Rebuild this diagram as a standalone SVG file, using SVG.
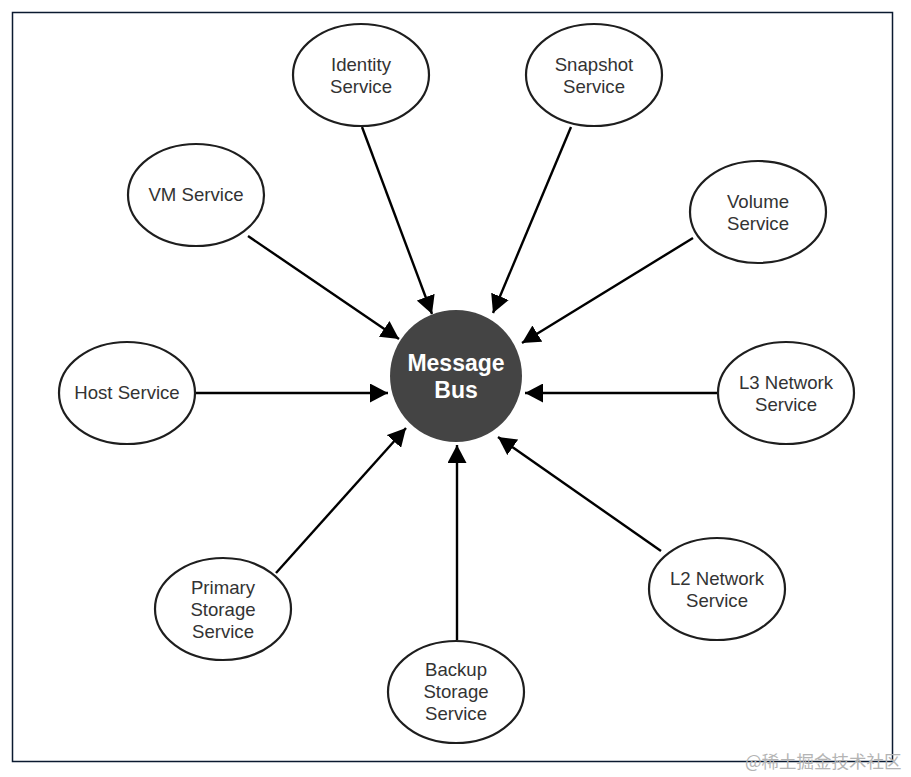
<svg xmlns="http://www.w3.org/2000/svg" width="911" height="777" viewBox="0 0 911 777">
<style>
.node ellipse{fill:#fff;stroke:#1e1e1e;stroke-width:2.2}
.node text{font-family:"Liberation Sans",Arial,sans-serif;font-size:18.6px;fill:#333;text-anchor:middle}
.conn line{stroke:#000;stroke-width:2.4}
.bus text{font-family:"Liberation Sans",Arial,sans-serif;font-size:23px;font-weight:bold;fill:#fff;text-anchor:middle}
.wm{font-family:"Noto Sans CJK SC","Liberation Sans",sans-serif;font-size:17.5px;fill:#b4b4b4}
</style>
<defs>
<marker id="ah" markerUnits="userSpaceOnUse" markerWidth="19" markerHeight="19" refX="18" refY="9.5" orient="auto" viewBox="0 0 19 19">
<path d="M0,0 L18,9.5 L0,19 z" fill="#000"/>
</marker>
</defs>
<rect width="911" height="777" fill="#fff"/>
<rect x="12.5" y="12.5" width="880" height="749" fill="none" stroke="#0b1a30" stroke-width="1.5"/>
<g class="conn">
<line x1="248" y1="236" x2="399" y2="339" marker-end="url(#ah)"/>
<line x1="362" y1="127" x2="432" y2="314" marker-end="url(#ah)"/>
<line x1="571" y1="127" x2="493" y2="313" marker-end="url(#ah)"/>
<line x1="693" y1="238" x2="522" y2="343" marker-end="url(#ah)"/>
<line x1="196" y1="393" x2="388" y2="393" marker-end="url(#ah)"/>
<line x1="717" y1="393" x2="525" y2="393" marker-end="url(#ah)"/>
<line x1="276" y1="573" x2="406" y2="428" marker-end="url(#ah)"/>
<line x1="457" y1="640" x2="457" y2="445" marker-end="url(#ah)"/>
<line x1="661" y1="551" x2="498" y2="437" marker-end="url(#ah)"/>
</g>
<g id="bus" class="bus">
<circle cx="456" cy="376" r="66" fill="#444"/>
<text x="456" y="371">Message</text>
<text x="456" y="398">Bus</text>
</g>
<g id="identity" class="node"><ellipse cx="361" cy="75" rx="68" ry="51"/><text x="361" y="71">Identity</text><text x="361" y="93">Service</text></g>
<g id="snapshot" class="node"><ellipse cx="594" cy="75" rx="68" ry="51"/><text x="594" y="71">Snapshot</text><text x="594" y="93">Service</text></g>
<g id="vm" class="node"><ellipse cx="196" cy="195" rx="68" ry="51"/><text x="196" y="201">VM Service</text></g>
<g id="volume" class="node"><ellipse cx="758" cy="212" rx="68" ry="51"/><text x="758" y="208">Volume</text><text x="758" y="230">Service</text></g>
<g id="host" class="node"><ellipse cx="127" cy="393" rx="68" ry="51"/><text x="127" y="399">Host Service</text></g>
<g id="l3" class="node"><ellipse cx="786" cy="393" rx="68" ry="51"/><text x="786" y="389">L3 Network</text><text x="786" y="411">Service</text></g>
<g id="primary" class="node"><ellipse cx="223" cy="609" rx="68" ry="51"/><text x="223" y="594">Primary</text><text x="223" y="616">Storage</text><text x="223" y="638">Service</text></g>
<g id="backup" class="node"><ellipse cx="456" cy="692" rx="68" ry="51"/><text x="456" y="676">Backup</text><text x="456" y="698">Storage</text><text x="456" y="720">Service</text></g>
<g id="l2" class="node"><ellipse cx="717" cy="589" rx="68" ry="51"/><text x="717" y="585">L2 Network</text><text x="717" y="607">Service</text></g>
<text class="wm" x="745" y="768">@稀土掘金技术社区</text>
</svg>
